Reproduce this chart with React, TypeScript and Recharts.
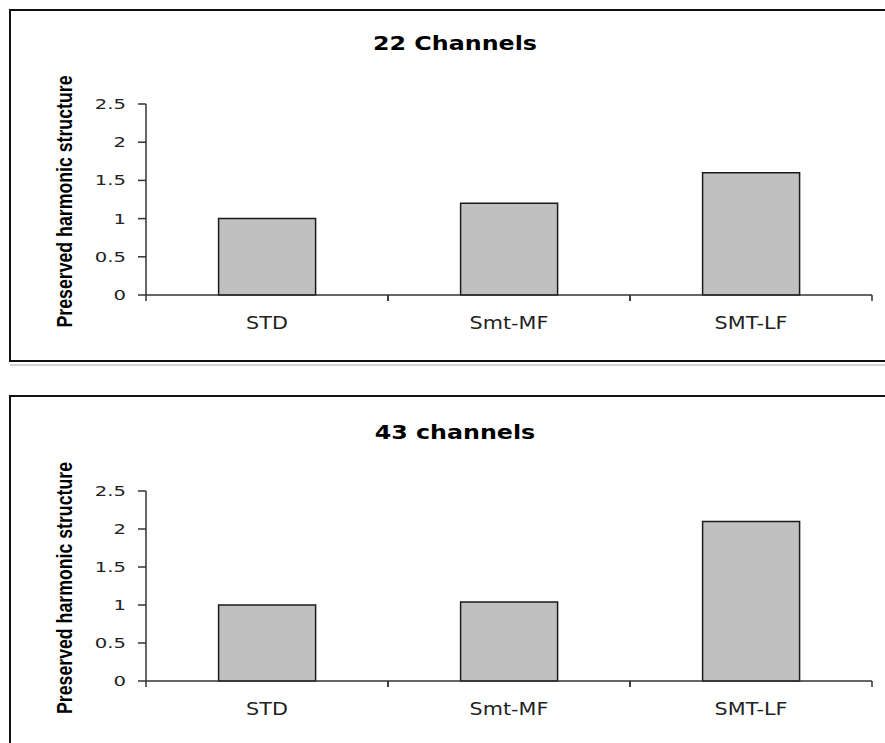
import React from 'react';
import { BarChart, Bar, XAxis, YAxis } from 'recharts';

// Categories and measured values for each channel configuration
const categories = ['STD', 'Smt-MF', 'SMT-LF'];
const values22 = [1.0, 1.2, 1.6];
const values43 = [1.0, 1.04, 2.1];
const yTicks = [0, 0.5, 1, 1.5, 2, 2.5];
const yTitle = 'Preserved harmonic structure';
const title22 = '22 Channels';
const title43 = '43 channels';

const build = (vals: number[]) => categories.map((c, i) => ({ name: c, value: vals[i] }));

const AXIS = '#333';

const YTick = (props: any) => {
  const { x, y, payload } = props;
  return (
    <g transform={`translate(${x},${y}) scale(1.4,1)`}>
      <text textAnchor="end" dominantBaseline="central" fontFamily="DejaVu Sans" fontSize={14} fill="#222">
        {String(payload.value)}
      </text>
    </g>
  );
};

// Category label at the band centre plus Excel-style tick marks at band edges
const XTick = (props: any) => {
  const { x, y, payload, width, visibleTicksCount } = props;
  const band = width / visibleTicksCount;
  const axisY = y - 6;
  return (
    <g>
      <line x1={x - band / 2} x2={x - band / 2} y1={axisY} y2={axisY + 6} stroke={AXIS} strokeWidth={1.5} />
      <line x1={x + band / 2} x2={x + band / 2} y1={axisY} y2={axisY + 6} stroke={AXIS} strokeWidth={1.5} />
      <g transform={`translate(${x},${axisY + 28}) scale(1.22,1)`}>
        <text textAnchor="middle" dominantBaseline="central" fontFamily="DejaVu Sans" fontSize={17} fill="#222">
          {payload.value}
        </text>
      </g>
    </g>
  );
};

const YLabel = (props: any) => {
  const { viewBox } = props;
  const cy = viewBox.y + viewBox.height / 2 + 2;
  const cx = viewBox.x - 22;
  return (
    <g transform={`translate(${cx},${cy}) rotate(-90) scale(0.805,1)`}>
      <text textAnchor="middle" dominantBaseline="central" fontFamily="Liberation Sans" fontWeight="bold" fontSize={22} fill="#000">
        {yTitle}
      </text>
    </g>
  );
};

const Panel = ({ vals, height, top, bottom }: { vals: number[]; height: number; top: number; bottom: number }) => (
  <BarChart
    width={885}
    height={height}
    data={build(vals)}
    margin={{ top, right: 13, bottom, left: 86 }}
    barCategoryGap="30%"
  >
    <XAxis
      dataKey="name"
      height={30}
      axisLine={{ stroke: AXIS, strokeWidth: 1.5 }}
      tickLine={false}
      tickSize={6}
      tickMargin={0}
      tick={<XTick />}
      interval={0}
    />
    <YAxis
      width={60}
      domain={[0, 2.5]}
      ticks={yTicks}
      interval={0}
      axisLine={{ stroke: AXIS, strokeWidth: 1.5 }}
      tickLine={{ stroke: AXIS, strokeWidth: 1.5 }}
      tickSize={8}
      tickMargin={12}
      tick={<YTick />}
      label={{ content: <YLabel /> }}
    />
    <Bar dataKey="value" fill="#c0c0c0" stroke="#1a1a1a" strokeWidth={1.5} isAnimationActive={false} />
  </BarChart>
);

const titleStyle = (cy: number): React.CSSProperties => ({
  position: 'absolute',
  left: 255,
  width: 400,
  top: cy - 15,
  height: 30,
  lineHeight: '30px',
  textAlign: 'center',
  fontFamily: 'DejaVu Sans',
  fontWeight: 'bold',
  fontSize: 19,
  color: '#000',
  transform: 'scaleX(1.25)',
});

export default function App() {
  return (
    <div
      style={{
        position: 'absolute',
        left: 0,
        top: 0,
        width: 885,
        height: 743,
        overflow: 'hidden',
        background: '#fff',
      }}
    >
      <div
        style={{
          position: 'absolute',
          left: 9,
          top: 9,
          width: 900,
          height: 353,
          boxSizing: 'border-box',
          border: '2px solid #111',
        }}
      />
      <div style={{ position: 'absolute', left: 10, top: 364, width: 880, height: 2, background: '#d4d4d4' }} />
      <div
        style={{
          position: 'absolute',
          left: 9,
          top: 395,
          width: 900,
          height: 400,
          boxSizing: 'border-box',
          border: '2px solid #111',
        }}
      />
      <div style={{ position: 'absolute', left: 0, top: 0 }}>
        <Panel vals={values22} height={361} top={104} bottom={36} />
      </div>
      <div style={{ position: 'absolute', left: 0, top: 380 }}>
        <Panel vals={values43} height={363} top={111} bottom={32} />
      </div>
      <div style={titleStyle(43)}>{title22}</div>
      <div style={titleStyle(432)}>{title43}</div>
    </div>
  );
}
